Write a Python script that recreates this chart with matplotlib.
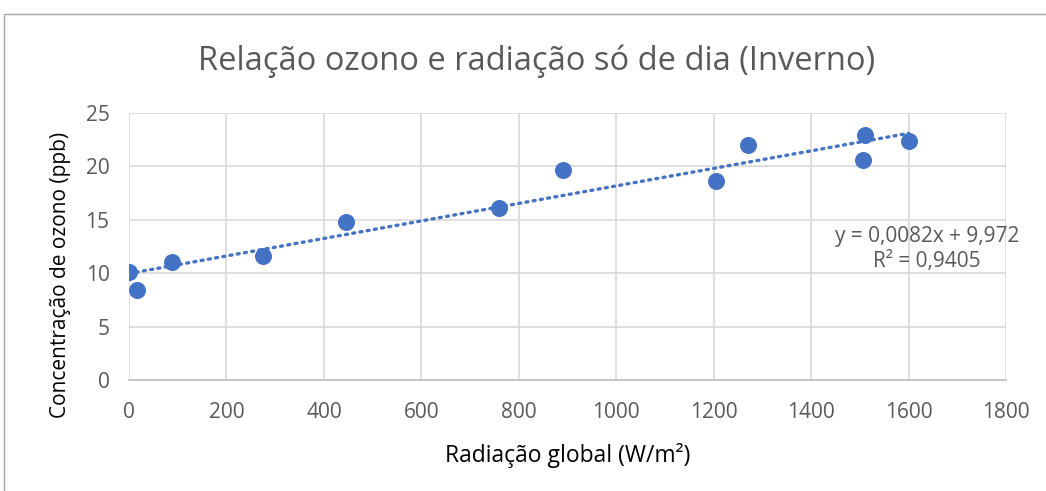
import numpy as np
import matplotlib.pyplot as plt
from matplotlib.patches import Rectangle

radiacao = [0, 16, 88, 275, 445, 759, 890, 1205, 1270, 1507, 1510, 1600]
ozono = [10.1, 8.4, 11.05, 11.6, 14.8, 16.1, 19.7, 18.6, 22.0, 20.6, 22.9, 22.4]
slope, intercept = 0.0082, 9.972
r2 = 0.9405
x_ticks = list(range(0, 1801, 200))
y_ticks = list(range(0, 26, 5))

blue = "#4472C4"
grey_txt = "#595959"
plt.rcParams['font.family'] = ['Open Sans', 'DejaVu Sans']

fig = plt.figure(figsize=(10.46, 4.91), dpi=100)
ax = fig.add_axes([0.1233, 0.226, 0.8385, 0.544])

# chart frame (cropped at right/bottom)
fig.patches.append(Rectangle((4 / 1046, -0.1), 1.2, 1 - 14 / 491 + 0.1,
                             transform=fig.transFigure, fill=False,
                             edgecolor="#A6A6A6", linewidth=1.0))

xs = np.array([min(radiacao), max(radiacao)])
ax.plot(xs, slope * xs + intercept, linestyle=(0, (0.6, 1.6)), color=blue,
        linewidth=2.4, dash_capstyle='round', zorder=2)
ax.scatter(radiacao, ozono, s=150, color=blue, zorder=3, linewidths=0)

ax.set_xlim(0, 1800)
ax.set_ylim(0, 25)
ax.set_xticks(x_ticks)
ax.set_yticks(y_ticks)
ax.grid(True, color="#D9D9D9", linewidth=1.2)
ax.set_axisbelow(True)
for s in ['top', 'right', 'left']:
    ax.spines[s].set_visible(False)
ax.spines['bottom'].set_color("#BFBFBF")
ax.spines['bottom'].set_linewidth(1.2)
ax.tick_params(length=0, labelsize=15, colors=grey_txt)
ax.tick_params(axis='x', pad=16)
ax.tick_params(axis='y', pad=14)

ax.text(1638, 12.25, f"y = {slope:.4f}x + {intercept:.3f}\nR² = {r2:.4f}".replace(".", ","),
        ha='center', va='center', fontsize=15, color=grey_txt, linespacing=1.25)

ax.set_xlabel("Radiação global (W/m²)", fontsize=16.5, color="black", labelpad=14)
ax.set_ylabel("Concentração de ozono (ppb)", fontsize=15, color="black")
ax.yaxis.set_label_coords(-0.066, 0.395)
fig.text(0.513, 0.875, "Relação ozono e radiação só de dia (Inverno)",
         ha='center', va='center', fontsize=23.5, color=grey_txt)

plt.savefig("out.png", dpi=100)
